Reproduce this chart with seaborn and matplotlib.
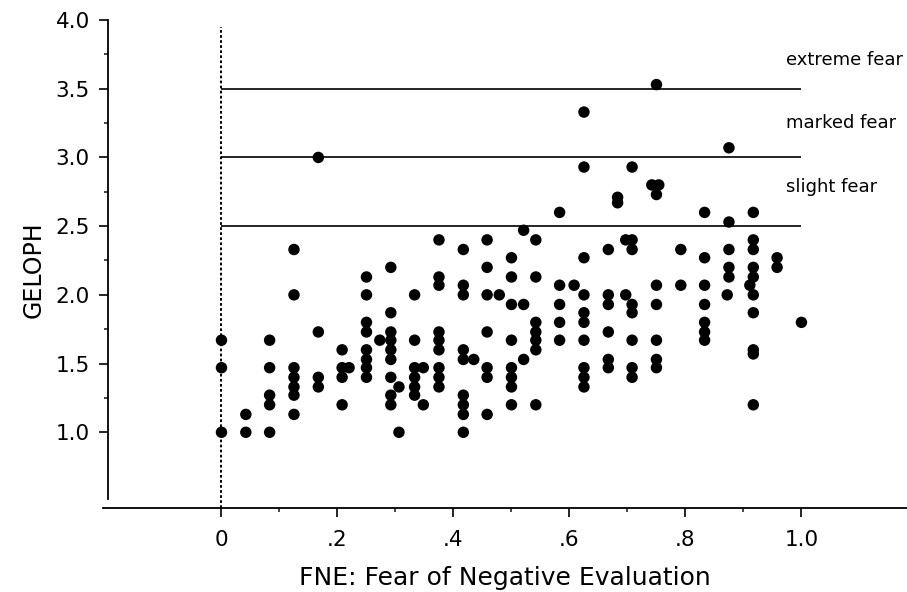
import matplotlib
matplotlib.use("Agg")
import numpy as np
import pandas as pd
import matplotlib.pyplot as plt
import seaborn as sns

# -------------------------------
# Data
# -------------------------------
# FNE score per respondent, grouped column by column (left to right)
fne = (
    [0.0] * 3 + [0.042] * 2 + [0.083] * 5 + [0.125] * 7 + [0.167] * 4
    + [0.208] * 4 + [0.22] + [0.25] * 8 + [0.273] + [0.292] * 9 + [0.306] * 2
    + [0.333] * 6 + [0.348] * 2 + [0.375] * 9 + [0.417] * 9 + [0.435]
    + [0.458] * 7 + [0.479] + [0.5] * 8 + [0.521] * 3 + [0.542] * 7
    + [0.583] * 5 + [0.608] + [0.625] * 10 + [0.667] * 6 + [0.683] * 2
    + [0.697] * 2 + [0.708] * 8 + [0.742, 0.754] + [0.75] * 7 + [0.792] * 2
    + [0.833] * 7 + [0.872] + [0.875] * 5 + [0.911] + [0.917] * 10
    + [0.958] * 2 + [1.0]
)

# GELOPH score for the same respondents, same order
geloph = [
    1.0, 1.47, 1.67,
    1.0, 1.13,
    1.0, 1.2, 1.27, 1.47, 1.67,
    1.13, 1.27, 1.33, 1.4, 1.47, 2.0, 2.33,
    1.33, 1.4, 1.73, 3.0,
    1.2, 1.4, 1.47, 1.6,
    1.47,
    1.4, 1.47, 1.53, 1.6, 1.73, 1.8, 2.0, 2.13,
    1.67,
    1.2, 1.27, 1.4, 1.53, 1.6, 1.67, 1.73, 1.87, 2.2,
    1.0, 1.33,
    1.27, 1.33, 1.4, 1.47, 1.67, 2.0,
    1.2, 1.47,
    1.33, 1.4, 1.47, 1.6, 1.67, 1.73, 2.07, 2.13, 2.4,
    1.0, 1.13, 1.2, 1.27, 1.53, 1.6, 2.0, 2.07, 2.33,
    1.53,
    1.13, 1.4, 1.47, 1.73, 2.0, 2.2, 2.4,
    2.0,
    1.2, 1.33, 1.4, 1.47, 1.67, 1.93, 2.13, 2.27,
    1.53, 1.93, 2.47,
    1.2, 1.6, 1.67, 1.73, 1.8, 2.13, 2.4,
    1.67, 1.8, 1.93, 2.07, 2.6,
    2.07,
    1.33, 1.4, 1.47, 1.67, 1.8, 1.87, 2.0, 2.27, 2.93, 3.33,
    1.47, 1.53, 1.73, 1.93, 2.0, 2.33,
    2.67, 2.71,
    2.0, 2.4,
    1.4, 1.47, 1.67, 1.87, 1.93, 2.33, 2.4, 2.93,
    2.8, 2.8,
    1.47, 1.53, 1.67, 1.93, 2.07, 2.73, 3.53,
    2.07, 2.33,
    1.67, 1.73, 1.8, 1.93, 2.07, 2.27, 2.6,
    2.0,
    2.13, 2.2, 2.33, 2.53, 3.07,
    2.07,
    1.2, 1.57, 1.6, 1.87, 2.0, 2.13, 2.2, 2.33, 2.4, 2.6,
    2.2, 2.27,
    1.8,
]

# cut-offs for gelotophobia categories
fear_levels = [2.5, 3.0, 3.5]
fear_labels = ["slight fear", "marked fear", "extreme fear"]
fear_label_y = [2.785, 3.25, 3.71]

x_ticks = [0, 0.2, 0.4, 0.6, 0.8, 1.0]
x_ticklabels = ["0", ".2", ".4", ".6", ".8", "1.0"]
y_ticks = [1.0, 1.5, 2.0, 2.5, 3.0, 3.5, 4.0]
y_ticklabels = ["1.0", "1.5", "2.0", "2.5", "3.0", "3.5", "4.0"]

df = pd.DataFrame({"FNE": fne, "GELOPH": geloph})

# -------------------------------
# Plot
# -------------------------------
sns.set_theme(style="ticks")
plt.rcParams["font.family"] = ["DejaVu Sans"]

fig = plt.figure(figsize=(9.07, 5.92), dpi=100)
ax = fig.add_axes([103 / 907, 1 - 508 / 592, 804 / 907, 488 / 592])

ax.set_xlim(-0.2043, 1.182)
ax.set_ylim(0.449, 4.0)

# dotted line at FNE = 0 and the category cut-off lines
ax.vlines(0, 0.449, 3.95, colors="black", linewidth=1.4,
          linestyles=(0, (1.4, 1.2)), zorder=1)
ax.hlines(fear_levels, 0, 1.0, colors="black", linewidth=1.2, zorder=1)
for lab, ly in zip(fear_labels, fear_label_y):
    ax.text(0.973, ly, lab, fontsize=13, va="center", ha="left", color="black")

sns.scatterplot(data=df, x="FNE", y="GELOPH", color="black", s=68,
                edgecolor="none", linewidth=0, ax=ax, zorder=3, legend=False)

# axes styling
for side in ["top", "right"]:
    ax.spines[side].set_visible(False)
ax.spines["left"].set_position(("data", -0.196))
ax.spines["left"].set_bounds(0.515, 4.0)
ax.spines["left"].set_linewidth(1.3)
ax.spines["bottom"].set_linewidth(1.3)
ax.spines["left"].set_color("black")
ax.spines["bottom"].set_color("black")

ax.set_xticks(x_ticks)
ax.set_xticklabels(x_ticklabels)
ax.set_xticks([0.1, 0.3, 0.5, 0.7, 0.9], minor=True)
ax.set_yticks(y_ticks)
ax.set_yticklabels(y_ticklabels)
ax.set_yticks([1.25, 1.75, 2.25, 2.75, 3.25, 3.75], minor=True)

ax.tick_params(axis="both", which="major", direction="out", length=6.5,
               width=1.2, labelsize=15.5, colors="black")
ax.tick_params(axis="both", which="minor", direction="out", length=3.2,
               width=1.2)
ax.tick_params(axis="x", which="major", pad=9.5)
ax.tick_params(axis="y", which="major", pad=6.5)

ax.set_xlabel("FNE: Fear of Negative Evaluation", fontsize=18, color="black")
ax.set_ylabel("GELOPH", fontsize=17, color="black")
ax.xaxis.set_label_coords(0.5, (508 - 578) / 488)
ax.xaxis.label.set_va("center")
ax.yaxis.set_label_coords((34 - 103) / 804, (508 - 270) / 488)
ax.yaxis.label.set_va("center")

ax.grid(False)
fig.savefig("out.png", dpi=100, facecolor="white")
plt.close(fig)
